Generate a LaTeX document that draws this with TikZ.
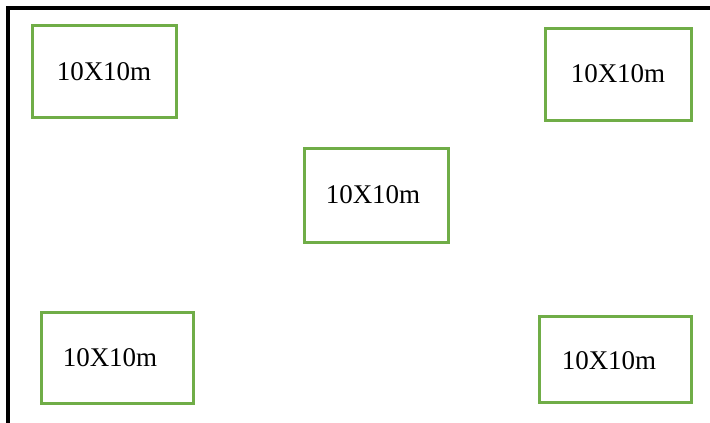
\documentclass[tikz,border=0pt]{standalone}
\usepackage{fontspec}
\setmainfont{Liberation Serif}
\definecolor{plotgreen}{HTML}{70AD47}
\begin{document}
\begin{tikzpicture}[x=1pt,y=-1pt,
  plot/.style={draw=plotgreen,line width=3pt,fill=white},
  plotlabel/.style={inner sep=0pt,font=\fontsize{27}{32}\selectfont},
  frame/.style={draw=black,line width=3.2pt}]
  \useasboundingbox (0,0) rectangle (710,423);
  % site frame (top and left edges)
  \coordinate (fbl) at (8,423);
  \coordinate (ftl) at (8,8);
  \coordinate (ftr) at (710,8);
  \draw[frame] (fbl) -- (ftl) -- (ftr);
  % sample plots
  \draw[plot] (32,25) rectangle (176,117);
  \draw[plot] (545,28) rectangle (691,120);
  \draw[plot] (304,148) rectangle (448,242);
  \draw[plot] (41,312) rectangle (193,403);
  \draw[plot] (539,316) rectangle (691,402);
  \node[plotlabel] (p1) at (104,72) {10X10m};
  \node[plotlabel] (p2) at (618,74) {10X10m};
  \node[plotlabel] (p3) at (373,195) {10X10m};
  \node[plotlabel] (p4) at (110,357.5) {10X10m};
  \node[plotlabel] (p5) at (609,361) {10X10m};
\end{tikzpicture}
\end{document}
